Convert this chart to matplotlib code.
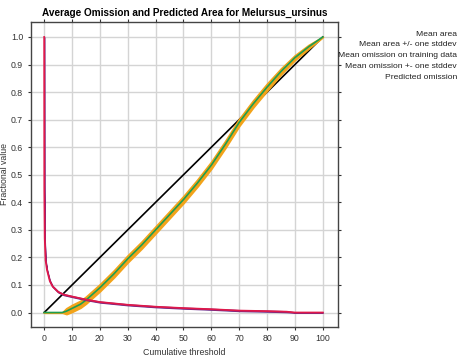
import matplotlib
matplotlib.use("Agg")
import matplotlib.pyplot as plt
from matplotlib import font_manager
import numpy as np

# pick a narrow font if one is installed
names = {f.name for f in font_manager.fontManager.ttflist}
FONT = "Liberation Sans Narrow" if "Liberation Sans Narrow" in names else "Liberation Sans"
plt.rcParams["font.family"] = [FONT, "DejaVu Sans"]

# Mean area (fraction of predicted area) vs cumulative threshold
area_x = [0, 0.05, 0.2, 0.5, 1, 2, 3, 5, 7, 10, 15, 20, 30, 40, 50, 60, 70, 80, 87, 90, 100]
area_y = [1.0, 0.45, 0.27, 0.19, 0.155, 0.115, 0.095, 0.075, 0.065, 0.058, 0.047,
          0.038, 0.028, 0.021, 0.016, 0.012, 0.007, 0.005, 0.003, 0.0, 0.0]
area_sd = [0.0, 0.01, 0.006, 0.004, 0.003, 0.003, 0.002, 0.002, 0.002, 0.002, 0.002,
           0.002, 0.002, 0.002, 0.002, 0.002, 0.002, 0.002, 0.002, 0.001, 0.001]

# Mean omission on training data
om_x = [0, 6.5, 8, 10, 13, 15, 20, 25, 30, 35, 40, 45, 50, 55, 60, 65, 70, 75, 80, 85, 90, 95, 100]
om_y = [0, 0, 0.005, 0.015, 0.03, 0.045, 0.09, 0.14, 0.195, 0.245, 0.30, 0.355, 0.41,
        0.47, 0.535, 0.61, 0.69, 0.757, 0.818, 0.875, 0.925, 0.965, 1.0]
om_sd = [0, 0, 0.01, 0.012, 0.012, 0.012, 0.012, 0.012, 0.012, 0.012, 0.012, 0.012, 0.012,
         0.012, 0.012, 0.012, 0.012, 0.012, 0.012, 0.01, 0.008, 0.006, 0.0]

# Predicted omission
pred_x = [0, 100]
pred_y = [0, 1]

legend_labels = ["Mean area", "Mean area +/- one stddev", "Mean omission on training data",
                 "Mean omission +- one stddev", "Predicted omission"]

fig = plt.figure(figsize=(4.6, 3.58), dpi=100)
ax = fig.add_axes([0.067, 0.087, 0.668, 0.852])

ax.grid(True, color="#d4d4d4", linewidth=1.0)
ax.set_axisbelow(True)

ax.plot(pred_x, pred_y, color="black", linewidth=1.2, zorder=3)

om_y_a = np.array(om_y)
om_sd_a = np.array(om_sd)
ax.fill_between(om_x, om_y_a - om_sd_a, om_y_a + om_sd_a, color="#f2a31a", linewidth=1.5,
                edgecolor="#f2a31a", zorder=4)
ax.plot(om_x, om_y, color="#1e9e50", linewidth=1.2, zorder=5)

ar_y = np.array(area_y)
ar_sd = np.array(area_sd)
ax.fill_between(area_x, ar_y - ar_sd, ar_y + ar_sd, color="#6a2a8a", linewidth=0.8,
                edgecolor="#6a2a8a", zorder=6)
ax.plot(area_x, area_y, color="#e0184a", linewidth=1.3, zorder=7)

ax.set_xlim(-4.8, 105.5)
ax.set_ylim(-0.052, 1.055)
ax.set_xticks(np.arange(0, 101, 10))
ax.set_yticks(np.arange(0, 1.01, 0.1))
ax.set_yticklabels([f"{v:.1f}" for v in np.arange(0, 1.01, 0.1)])
ax.tick_params(labelsize=6.3, colors="#333333", length=2.5, width=0.8, pad=3,
               top=True, right=True, direction="out")
for s in ax.spines.values():
    s.set_color("#444444")
    s.set_linewidth(1.0)

ax.set_title("Average Omission and Predicted Area for Melursus_ursinus",
             fontsize=7.2, fontweight="bold", pad=4)
ax.set_xlabel("Cumulative threshold", fontsize=6.3, color="#333333", labelpad=3)
ax.set_ylabel("Fractional value", fontsize=6.3, color="#333333")
ax.yaxis.set_label_coords(-0.071, 0.5)

for i, lab in enumerate(legend_labels):
    fig.text(0.993, 0.905 - i * 0.0305, lab, ha="right", va="center", fontsize=6.1, color="#222222")

fig.savefig("out.png", dpi=100)
